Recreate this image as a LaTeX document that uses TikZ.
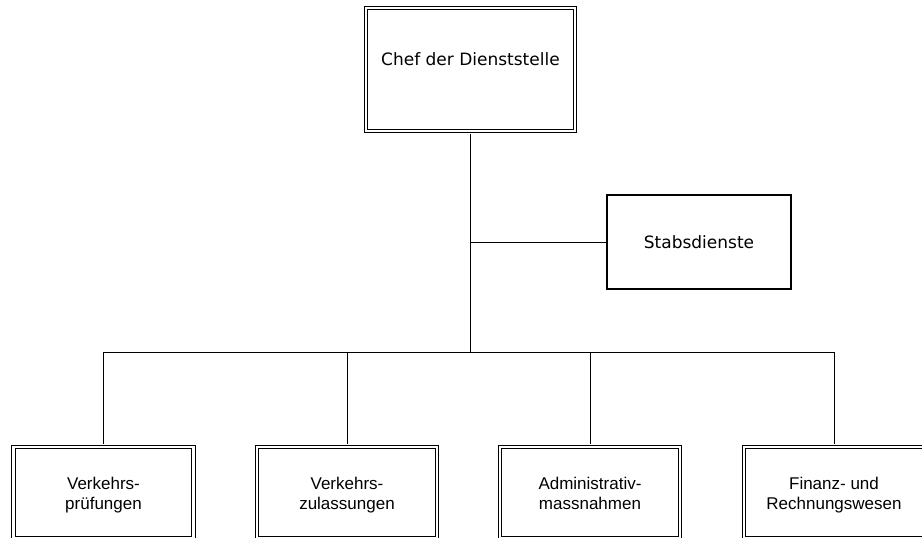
\documentclass[tikz,border=0pt]{standalone}
\usepackage{fontspec}
\setmainfont{DejaVu Sans}
\newfontfamily\arialfont{Liberation Sans}
\usetikzlibrary{positioning, calc}

\begin{document}
\begin{tikzpicture}[
    x=1pt, y=-1pt,
    head/.style={draw, double, double distance=2.4pt, line width=1pt, inner sep=0pt, minimum width=209.5pt, minimum height=123pt, font=\fontsize{17}{19}\selectfont, text height=12.5pt, text depth=21.5pt},
    staff/.style={draw, line width=1.2pt, inner sep=0pt, minimum width=184pt, minimum height=94pt, font=\fontsize{17}{19}\selectfont},
    dept/.style={draw, double, double distance=2.4pt, line width=1pt, inner sep=0pt, minimum width=180pt, minimum height=91pt, align=center, font=\arialfont\fontsize{17}{20}\selectfont, text height=38pt, text depth=3.5pt},
    link/.style={line width=1pt}
]
\useasboundingbox (0,0) rectangle (922,538);

\node[head] (chef) at (470.5,69.5) {Chef der Dienststelle};
\node[staff] (stab) at (699,242) {Stabsdienste};
\node[dept] (d1) at (103.5,492.5) {Verkehrs-\\prüfungen};
\node[dept] (d2) at (347,492.5) {Verkehrs-\\zulassungen};
\node[dept] (d3) at (590,492.5) {Administrativ-\\massnahmen};
\node[dept] (d4) at (834,492.5) {Finanz- und\\Rechnungswesen};
\coordinate (bus) at (470.5,352);

\draw[link, shorten <=2.2pt] (chef.south) -- (bus);
\draw[link] (stab.west) -- (stab.west -| chef.south);
\draw[link] (bus -| d1.north) -- (bus -| d4.north);
\foreach \i in {1,...,4}
    \draw[link, shorten <=2.2pt] (d\i.north) -- (d\i.north |- bus);
\end{tikzpicture}
\end{document}
